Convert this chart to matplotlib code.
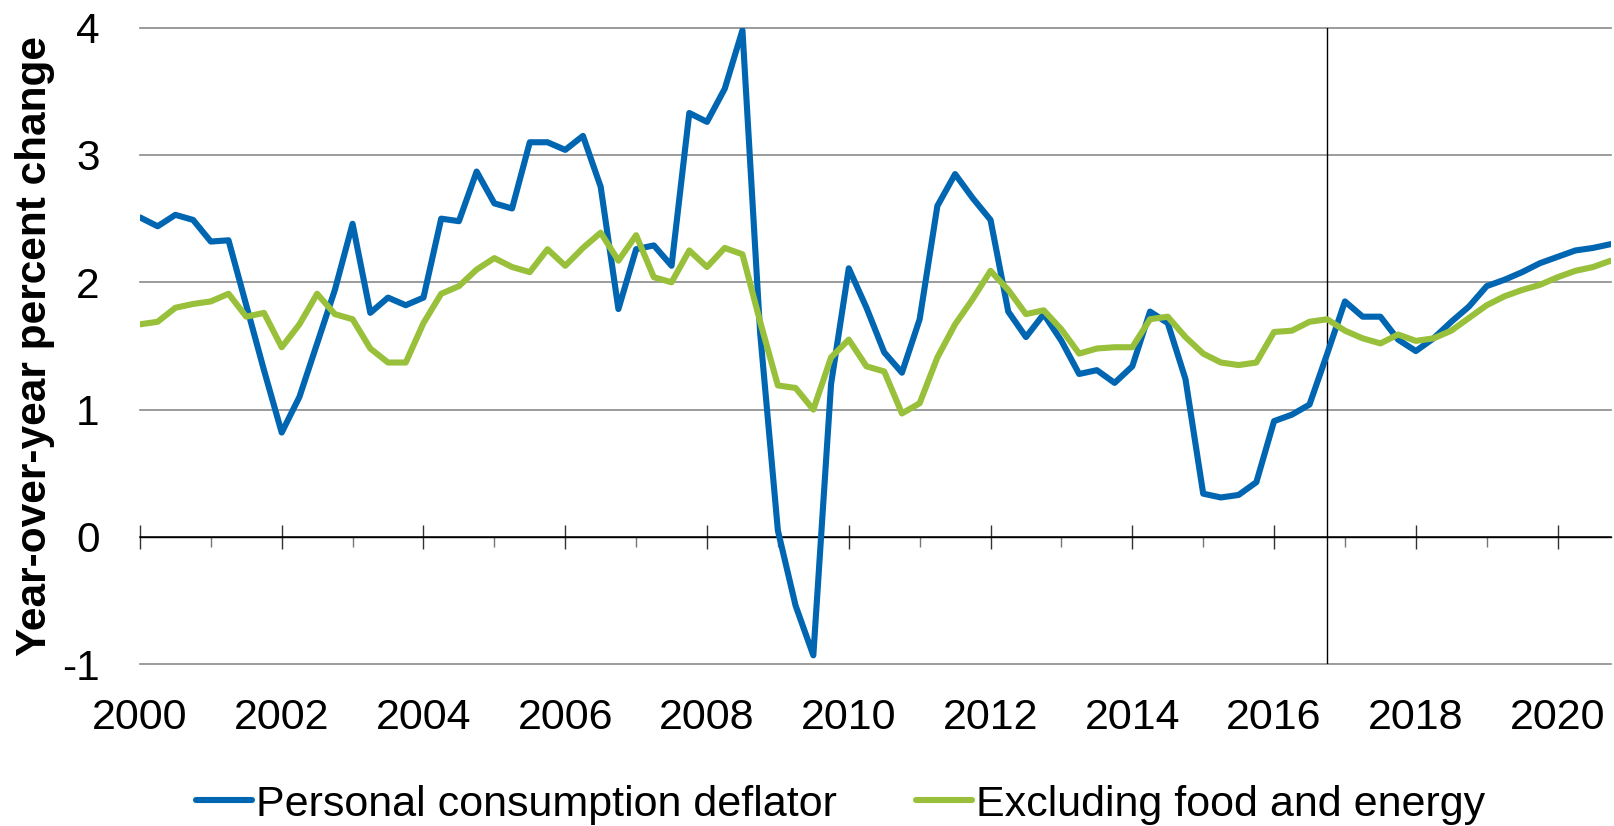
import numpy as np
import matplotlib
matplotlib.use("Agg")
from matplotlib import pyplot as plt
from matplotlib.ticker import MultipleLocator

plt.rcParams['font.family'] = ['Liberation Sans', 'DejaVu Sans']

# quarterly, 2000Q1 .. 2020Q4
quarters = np.arange(2000, 2021, 0.25)

pce = [2.51, 2.44, 2.53, 2.49, 2.32, 2.33, 1.82, 1.31, 0.82, 1.10,
       1.52, 1.94, 2.46, 1.76, 1.88, 1.82, 1.88, 2.50, 2.48, 2.87,
       2.62, 2.58, 3.10, 3.10, 3.04, 3.15, 2.75, 1.79, 2.26, 2.29,
       2.13, 3.33, 3.26, 3.52, 3.98, 1.60, 0.05, -0.54, -0.93, 1.20,
       2.11, 1.80, 1.45, 1.29, 1.71, 2.60, 2.85, 2.66, 2.49, 1.77,
       1.57, 1.75, 1.54, 1.28, 1.31, 1.21, 1.34, 1.77, 1.68, 1.24,
       0.34, 0.31, 0.33, 0.43, 0.91, 0.96, 1.04, 1.44, 1.85, 1.73,
       1.73, 1.55, 1.46, 1.56, 1.69, 1.81, 1.97, 2.02, 2.08, 2.15,
       2.20, 2.25, 2.27, 2.30]

core = [1.67, 1.69, 1.80, 1.83, 1.85, 1.91, 1.73, 1.76, 1.49, 1.67,
        1.91, 1.75, 1.71, 1.48, 1.37, 1.37, 1.68, 1.91, 1.97, 2.10,
        2.19, 2.12, 2.08, 2.26, 2.13, 2.27, 2.39, 2.17, 2.37, 2.04,
        2.00, 2.25, 2.12, 2.27, 2.22, 1.69, 1.19, 1.17, 1.00, 1.41,
        1.55, 1.34, 1.30, 0.97, 1.05, 1.41, 1.67, 1.87, 2.09, 1.94,
        1.75, 1.78, 1.63, 1.44, 1.48, 1.49, 1.49, 1.71, 1.73, 1.57,
        1.44, 1.37, 1.35, 1.37, 1.61, 1.62, 1.69, 1.71, 1.62, 1.56,
        1.52, 1.59, 1.54, 1.56, 1.62, 1.72, 1.82, 1.89, 1.94, 1.98,
        2.04, 2.09, 2.12, 2.17]

FORECAST_START = 2016.75
year_ticks = list(range(2000, 2021, 2))
y_ticks = [-1, 0, 1, 2, 3, 4]

BLUE = '#0066b2'
GREEN = '#99c03a'

fig = plt.figure(figsize=(16.14, 8.26), dpi=100)
ax = fig.add_axes([0.0867, 0.1958, 0.9113, 0.7707])

ax.plot(quarters, pce, color=BLUE, lw=4.4, label='Personal consumption deflator',
        solid_joinstyle='round', solid_capstyle='round', zorder=3)
ax.plot(quarters, core, color=GREEN, lw=4.4, label='Excluding food and energy',
        solid_joinstyle='round', solid_capstyle='round', zorder=3)
ax.axvline(FORECAST_START, color='black', lw=1, zorder=2)

ax.set_xlim(2000, 2020.75)
ax.set_ylim(-1, 4)
ax.set_yticks(y_ticks)
ax.set_yticklabels([str(v) for v in y_ticks])
ax.set_xticks(year_ticks)
ax.set_xticklabels([str(v) for v in year_ticks])
for s in ax.spines.values():
    s.set_visible(False)
ax.grid(axis='y', color='#8a8a8a', lw=1.2)
for v, gl in zip(y_ticks, ax.get_ygridlines()):
    gl.set_clip_on(False)
    if v == 0:
        gl.set_color('black')
        gl.set_linewidth(1.1)
ax.set_axisbelow(True)
ax.tick_params(axis='y', length=0, pad=29, labelsize=30.5)
ax.tick_params(axis='x', length=0, pad=24, labelsize=31)

# zero line carrying the year ticks
sec = ax.secondary_xaxis(0.2)
sec.xaxis.set_major_locator(MultipleLocator(2))
sec.xaxis.set_minor_locator(MultipleLocator(1))
sec.tick_params(which='major', direction='inout', length=17, width=1,
                color='#333333', labelbottom=False)
sec.tick_params(which='minor', direction='out', length=7, width=1,
                color='#777777')
sec.spines['bottom'].set_color('black')
sec.spines['bottom'].set_linewidth(1)

ax.set_ylabel('Year-over-year percent change', fontsize=30.5, fontweight='bold',
              va='center')
ax.yaxis.set_label_coords(-0.0715, 0.5)

fig.legend(loc='center', bbox_to_anchor=(0.5208, 0.026), ncol=2, frameon=False,
           fontsize=31, handlelength=1.3, handletextpad=0.1, columnspacing=1.84)

fig.savefig('out.png', dpi=100)
